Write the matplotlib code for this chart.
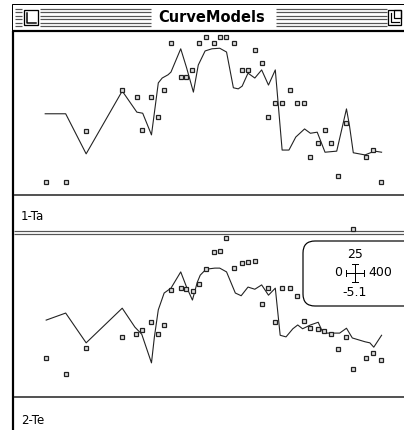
import matplotlib
matplotlib.use('Agg')
import matplotlib.pyplot as plt
from matplotlib.patches import Rectangle, FancyBboxPatch

title = 'CurveModels'
panel_names = ['1-Ta', '2-Te']
x_range = [0, 400]
y_range = [-5.1, 25]
scale_labels = ['25', '0', '400', '-5.1']

# panel 1: model curve and observations
ta_line_x = [32, 53, 74, 111, 126, 132, 141, 148, 152, 158, 161, 171, 177, 184, 189, 196, 203, 211,
             218, 225, 230, 234, 240, 247, 254, 261, 268, 275, 282, 289, 298, 304, 311, 319, 331,
             336, 341, 344, 348, 360, 367, 370, 377]
ta_line_y = [9.9, 9.9, 2.5, 14.1, 10.2, 10.0, 6.0, 15.6, 16.5, 17.1, 17.6, 21.9, 18.4, 13.9, 18.9,
             21.5, 21.9, 22.0, 21.3, 14.7, 14.5, 15.0, 17.4, 16.5, 18.0, 15.2, 18.0, 3.2, 3.2, 5.6,
             7.1, 6.3, 6.5, 2.8, 3.0, 6.9, 10.8, 7.8, 2.7, 2.3, 2.8, 3.0, 2.8]
ta_pts_x = [33, 53, 74, 111, 126, 131, 141, 148, 154, 161, 171, 176, 183, 190, 197, 205, 211, 217,
            226, 234, 240, 247, 254, 261, 268, 275, 283, 290, 297, 304, 312, 319, 325, 332, 341,
            361, 368, 376]
ta_pts_y = [-2.7, -2.7, 6.7, 14.3, 13.0, 6.9, 13.0, 9.3, 14.3, 23.0, 16.7, 16.7, 18.0, 23.0, 24.1,
            23.0, 24.1, 24.1, 23.0, 18.0, 18.0, 21.7, 19.3, 9.3, 11.9, 11.9, 14.3, 11.9, 11.9, 1.9,
            4.5, 6.9, 4.5, -1.6, 8.2, 1.9, 3.2, -2.7]

# panel 2
te_line_x = [33, 53, 74, 111, 124, 131, 141, 144, 148, 154, 161, 171, 177, 183, 188, 191, 197, 206,
             211, 218, 227, 233, 240, 247, 254, 261, 268, 273, 279, 286, 291, 296, 304, 312, 317,
             334, 341, 347, 360, 365, 369, 377]
te_line_y = [9.1, 10.4, 4.9, 11.3, 7.8, 6.5, 1.2, 6.0, 11.0, 14.1, 15.0, 18.0, 15.2, 12.8, 16.1,
             17.4, 18.5, 18.7, 18.7, 18.0, 14.1, 13.6, 15.2, 14.8, 15.6, 13.7, 15.0, 6.3, 6.0, 7.5,
             8.2, 7.5, 8.2, 8.7, 6.7, 6.7, 7.6, 5.8, 5.1, 4.9, 4.1, 6.3]
te_pts_x = [33, 53, 74, 111, 125, 131, 141, 148, 154, 161, 171, 176, 184, 190, 197, 205, 211, 217,
            226, 234, 240, 247, 254, 261, 268, 275, 283, 290, 297, 304, 312, 318, 325, 332, 341,
            348, 361, 368, 376, 348]
te_pts_y = [2.1, -0.9, 3.9, 6.0, 6.5, 7.3, 8.7, 6.5, 8.2, 14.7, 15.0, 14.8, 14.5, 15.8, 18.5, 21.7,
            21.9, 24.3, 18.7, 19.6, 19.8, 20.0, 12.1, 15.0, 8.7, 15.0, 15.0, 13.6, 8.9, 7.6, 7.5,
            7.1, 6.5, 3.8, 6.0, 0.1, 2.1, 3.0, 1.7, 25.9]

W, H = 404, 430
fig = plt.figure(figsize=(W / 100, H / 100), dpi=100)
fig.patch.set_facecolor('white')

# window chrome drawn in pixel space
bg = fig.add_axes([0, 0, 1, 1])
bg.set_xlim(0, W)
bg.set_ylim(H, 0)
bg.axis('off')
px = 0.72  # one pixel in points

# title bar
bg.add_patch(Rectangle((12, 4), 392, 27, fill=False, ec='black', lw=px))
for y in [8.5, 12, 15.5, 19, 22.5, 26]:
    for x0, x1 in [(15, 22), (40, 151), (276, 387)]:
        bg.plot([x0, x1], [y, y], color='#555555', lw=1.2 * px, solid_capstyle='butt')
bg.add_patch(Rectangle((24, 10), 14, 15, fc='white', ec='black', lw=1.3 * px))
bg.plot([27, 27, 36], [13, 23, 23], color='black', lw=1.5 * px)
bg.add_patch(Rectangle((388, 10), 13, 15, fc='white', ec='black', lw=1.3 * px))
bg.plot([391, 391, 399], [13, 22, 22], color='black', lw=1.2 * px)
bg.add_patch(Rectangle((394, 10), 7, 8, fill=False, ec='black', lw=1.2 * px))
bg.text(212, 17.5, title, ha='center', va='center', fontsize=10.5, fontweight='bold', color='black')
bg.plot([12, W], [31, 31], color='black', lw=2.2 * px, solid_capstyle='butt')

# left border
bg.plot([13, 13], [31, H], color='black', lw=2.2 * px, solid_capstyle='butt')

# separators and labels
bg.plot([14, W], [195, 195], color='#555555', lw=2 * px, solid_capstyle='butt')
bg.text(21, 217, panel_names[0], ha='left', va='center', fontsize=8.5)
bg.plot([14, W], [230.5, 230.5], color='#555555', lw=1.2 * px, solid_capstyle='butt')
bg.plot([14, W], [233.5, 233.5], color='#555555', lw=1.2 * px, solid_capstyle='butt')
bg.plot([14, W], [397, 397], color='#555555', lw=2 * px, solid_capstyle='butt')
bg.text(21, 420, panel_names[1], ha='left', va='center', fontsize=8.5)

# scale box
bg.add_patch(FancyBboxPatch((303, 241), 120, 65, boxstyle='round,pad=0,rounding_size=12',
                            fc='white', ec='black', lw=1.2 * px))
bg.text(355, 254, scale_labels[0], ha='center', va='center', fontsize=9)
bg.text(342, 273, scale_labels[1], ha='right', va='center', fontsize=9)
bg.text(368, 273, scale_labels[2], ha='left', va='center', fontsize=9)
bg.text(355, 292, scale_labels[3], ha='center', va='center', fontsize=9)
bg.plot([355, 355], [264, 282], color='black', lw=px)
bg.plot([352, 358], [264, 264], color='black', lw=px)
bg.plot([352, 358], [282, 282], color='black', lw=px)
bg.plot([346, 364], [273, 273], color='black', lw=px)
bg.plot([346, 346], [270, 276], color='black', lw=px)
bg.plot([364, 364], [270, 276], color='black', lw=px)

# data panels
panels = [
    (195, ta_line_x, ta_line_y, ta_pts_x, ta_pts_y),
    (397, te_line_x, te_line_y, te_pts_x, te_pts_y),
]
for bottom_px, lx, ly, ptx, pty in panels:
    ax = fig.add_axes([14 / W, (H - bottom_px) / H, 390 / W, 163 / H])
    ax.set_xlim(x_range)
    ax.set_ylim(y_range)
    ax.patch.set_alpha(0)
    ax.axis('off')
    ax.plot(lx, ly, color='#222222', lw=1.1 * px)
    ax.plot(ptx, pty, ls='none', marker='s', ms=3.2, mfc='#dddddd', mec='#222222', mew=0.9,
            clip_on=False)

fig.savefig('out.png', dpi=100)
